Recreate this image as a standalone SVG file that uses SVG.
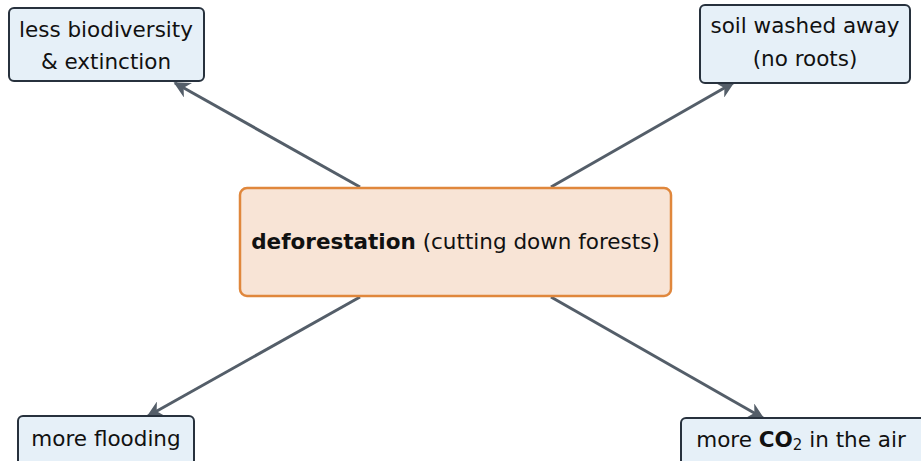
<svg xmlns="http://www.w3.org/2000/svg" width="921" height="461" viewBox="0 0 921 461">
<style>
.leaf{fill:#e6f0f8;stroke:#27313d;stroke-width:2}
.main{fill:#f8e4d6;stroke:#e0873c;stroke-width:2.5}
text{font-family:"DejaVu Sans","Liberation Sans",sans-serif;font-size:21.5px;fill:#111;text-anchor:middle}
.conn{stroke:#545e69;stroke-width:3;fill:none;marker-end:url(#ah)}
</style>
<defs>
<marker id="ah" viewBox="0 0 10 10" refX="9" refY="5" markerWidth="5.5" markerHeight="5.5" orient="auto" markerUnits="strokeWidth">
<path d="M0,0 L10,5 L0,10 L3,5 Z" fill="#545e69"/>
</marker>
</defs>
<g id="connectors">
<line class="conn" x1="360" y1="187" x2="175" y2="83"/>
<line class="conn" x1="551" y1="187" x2="733" y2="83"/>
<line class="conn" x1="360" y1="297" x2="148" y2="416"/>
<line class="conn" x1="551" y1="297" x2="763" y2="418"/>
</g>
<g id="center">
<rect class="main" x="240" y="188" width="431" height="108" rx="7"/>
<text x="455.5" y="249"><tspan font-weight="bold">deforestation</tspan> (cutting down forests)</text>
</g>
<g id="biodiversity">
<rect class="leaf" x="9" y="8" width="195" height="73" rx="5"/>
<text x="106" y="37">less biodiversity</text>
<text x="106" y="69">&amp; extinction</text>
</g>
<g id="soil">
<rect class="leaf" x="700" y="5" width="210" height="78" rx="5"/>
<text x="805" y="33">soil washed away</text>
<text x="805" y="66">(no roots)</text>
</g>
<g id="flooding">
<rect class="leaf" x="18" y="416" width="176" height="50" rx="5"/>
<text x="106" y="446">more flooding</text>
</g>
<g id="co2">
<rect class="leaf" x="681" y="418" width="250" height="50" rx="5"/>
<text x="801" y="447">more <tspan font-weight="bold">CO</tspan><tspan font-size="15" dy="3">2</tspan><tspan dy="-3"> in the air</tspan></text>
</g>
</svg>
